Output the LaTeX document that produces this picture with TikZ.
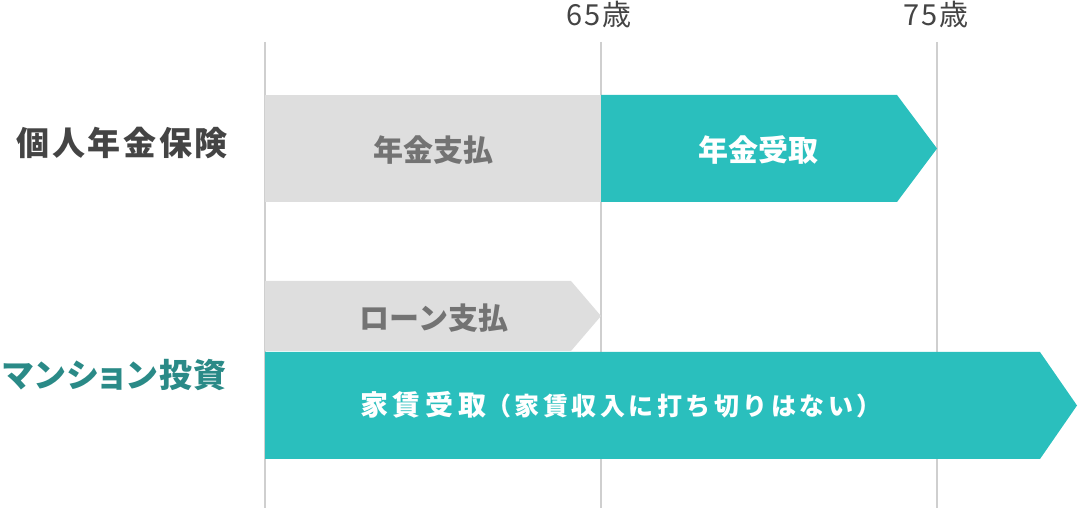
\documentclass[tikz,border=0pt]{standalone}
\usepackage{fontspec}
\setmainfont{Noto Sans CJK JP}
\newfontfamily\jpbar{Noto Sans CJK JP}[LetterSpace=0]
\newfontfamily\jprow{Noto Sans CJK JP}[LetterSpace=8, RawFeature=+palt]
\newfontfamily\jprowk{Noto Sans CJK JP}[LetterSpace=5, RawFeature=+palt]
\newfontfamily\jpnote{Noto Sans CJK JP}[LetterSpace=17]
\newfontfamily\jpsub{Noto Sans CJK JP}[LetterSpace=14]
\newfontfamily\jpage{Noto Sans CJK JP}[LetterSpace=8]

\definecolor{barteal}{HTML}{2ABFBD}
\definecolor{bargray}{HTML}{DEDEDE}
\definecolor{gridgray}{HTML}{CFCFCF}
\definecolor{labeldark}{HTML}{444444}
\definecolor{labelteal}{HTML}{2A8A87}
\definecolor{textgray}{HTML}{737373}

\tikzset{
  agegrid/.style={draw=gridgray, line width=1.6pt},
  agelabel/.style={
    text=labeldark, inner sep=0pt,
    font=\jpage\fontsize{29}{32}\selectfont
  },
  rowlabel/.style={
    anchor=east, inner sep=0pt,
    font=\jprow\bfseries\fontsize{33}{36}\selectfont
  },
  paybar/.style={fill=bargray},
  getbar/.style={fill=barteal},
  paytext/.style={
    text=textgray, inner sep=0pt,
    font=\jpbar\bfseries\fontsize{30}{33}\selectfont
  },
  gettext/.style={
    text=white, inner sep=0pt,
    font=\jpbar\bfseries\fontsize{30}{33}\selectfont
  },
}

\begin{document}
\begin{tikzpicture}[x=1pt, y=1pt]

\def\xS{265}
\def\xM{601}
\def\xE{937}

\useasboundingbox (0,0) rectangle (1078,508);

%% Age axis
\node[agelabel] (age65) at (\xM-2, 493) {65歳};
\node[agelabel] (age75) at (\xE-1, 493) {75歳};
\coordinate (start top) at (\xS, 466);
\coordinate (start bot) at (\xS, 0);
\coordinate (m65 top) at (\xM, 466);
\coordinate (m65 bot) at (\xM, 0);
\coordinate (m75 top) at (\xE, 466);
\coordinate (m75 bot) at (\xE, 0);
\draw[agegrid] (start top) -- (start bot);
\draw[agegrid] (m65 top) -- (m65 bot);
\draw[agegrid] (m75 top) -- (m75 bot);

%% Row 1: pension insurance
\node[rowlabel, text=labeldark] (pension) at (228, 365) {個人年金保険};
\fill[paybar] (\xS, 306) rectangle (\xM, 413);
\fill[getbar] (\xM, 306) -- (\xM, 413) -- (897, 413) -- (\xE, 359.5)
  -- (897, 306) -- cycle;
\node[paytext] (pension pay) at (433, 358) {年金支払};
\node[gettext] (pension get) at (758, 358) {年金受取};

%% Row 2: condominium investment
\node[rowlabel, text=labelteal, font=\jprowk\bfseries\fontsize{33}{36}\selectfont]
  (condo) at (227, 133) {マンション投資};
\fill[paybar] (\xS, 157) -- (\xS, 227) -- (571, 227) -- (\xM, 192)
  -- (571, 157) -- cycle;
\fill[getbar] (\xS, 49) -- (\xS, 156) -- (1040, 156) -- (1077, 102.5)
  -- (1040, 49) -- cycle;
\node[paytext] (loan pay) at (434, 190) {ローン支払};
\node[gettext, anchor=west] (rent get) at (360, 103)
  {\jpnote\fontsize{28}{31}\selectfont 家賃受取%
   {\jpsub\fontsize{25}{28}\selectfont（家賃収入に打ち切りはない）}};

\end{tikzpicture}
\end{document}
